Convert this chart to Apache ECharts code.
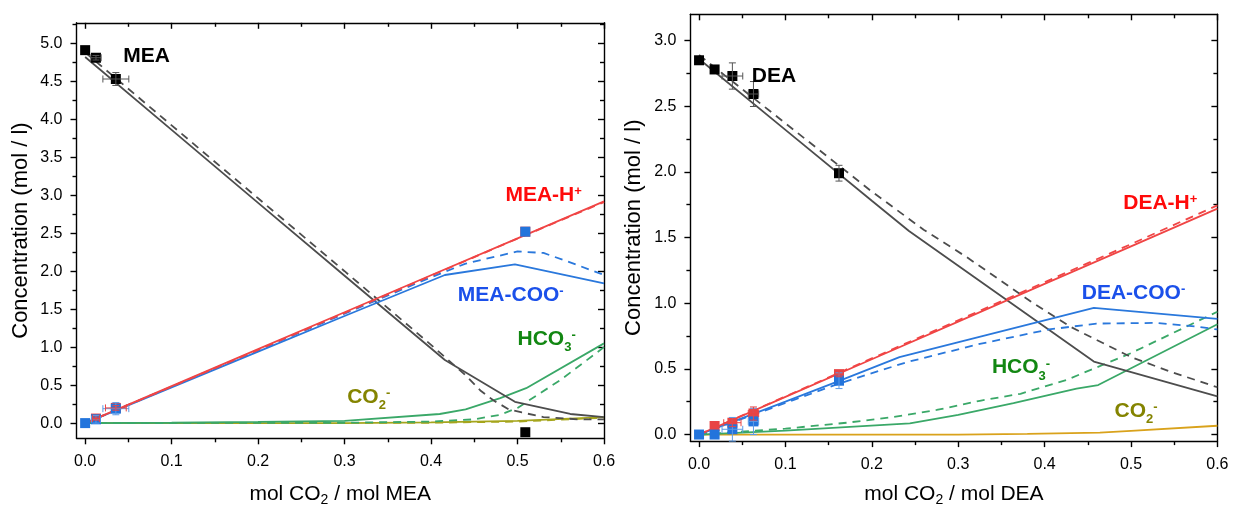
<!DOCTYPE html>
<html><head><meta charset="utf-8">
<script src="https://cdn.jsdelivr.net/npm/echarts@6/dist/echarts.min.js"></script>
<style>html,body{margin:0;padding:0;background:#fff}#c{width:1233px;height:506px}</style>
</head><body><div id="c"></div>
<script>
// ---------- tick values ----------
const xMajor = [0, 0.1, 0.2, 0.3, 0.4, 0.5, 0.6];
const xMinor = [0.05, 0.15, 0.25, 0.35, 0.45, 0.55];
const yMajorMEA = [0, 0.5, 1.0, 1.5, 2.0, 2.5, 3.0, 3.5, 4.0, 4.5, 5.0];
const yMinorMEA = [0.25, 0.75, 1.25, 1.75, 2.25, 2.75, 3.25, 3.75, 4.25, 4.75, 5.25];
const yMajorDEA = [0, 0.5, 1.0, 1.5, 2.0, 2.5, 3.0];
const yMinorDEA = [0.25, 0.75, 1.25, 1.75, 2.25, 2.75];

// ---------- MEA experiments ----------
const meaExpX      = [0, 0.0125, 0.0355, 0.509];
const meaExpMEA    = [4.91, 4.81, 4.53, -0.12];
const meaExpMEAxe  = [0, 0.006, 0.015, 0];
const meaExpMEAye  = [0, 0.03, 0.085, 0];
const meaExpHX     = [0.0125, 0.0355, 0.509];
const meaExpH      = [0.06, 0.2, 2.52];
const meaExpHxe    = [0.004, 0.012, 0];
const meaExpHye    = [0.02, 0.03, 0];
const meaExpCooX   = [0, 0.0125, 0.0355, 0.509];
const meaExpCoo    = [0, 0.05, 0.19, 2.52];
const meaExpCooxe  = [0, 0.005, 0.015, 0];
const meaExpCooye  = [0, 0.05, 0.08, 0];

// ---------- MEA model curves [loading, concentration] ----------
const meaFreeSolid = [[0,4.82],[0.1,3.86],[0.2,2.90],[0.3,1.94],[0.416,0.83],[0.497,0.28],[0.561,0.12],[0.6,0.08]];
const meaFreeDash  = [[0,4.88],[0.1,3.92],[0.2,2.96],[0.3,2.0],[0.4,1.03],[0.44,0.63],[0.457,0.43],[0.472,0.3],[0.49,0.18],[0.505,0.14],[0.53,0.08],[0.57,0.05],[0.6,0.05]];
const meaHSolid    = [[0,0],[0.1,0.487],[0.2,0.973],[0.3,1.46],[0.4,1.947],[0.5,2.433],[0.6,2.92]];
const meaHDash     = [[0,0],[0.1,0.48],[0.2,0.965],[0.3,1.45],[0.4,1.94],[0.5,2.43],[0.6,2.91]];
const meaCooSolid  = [[0,0],[0.1,0.47],[0.2,0.94],[0.3,1.41],[0.416,1.95],[0.497,2.09],[0.6,1.84]];
const meaCooDash   = [[0,0],[0.1,0.48],[0.2,0.96],[0.3,1.44],[0.4,1.92],[0.44,2.1],[0.5,2.26],[0.53,2.24],[0.56,2.12],[0.6,1.95]];
const meaHco3Solid = [[0,0],[0.1,0.005],[0.2,0.015],[0.3,0.03],[0.41,0.12],[0.44,0.18],[0.48,0.33],[0.51,0.46],[0.6,1.05]];
const meaHco3Dash  = [[0,0],[0.3,0.005],[0.4,0.02],[0.45,0.05],[0.48,0.11],[0.5,0.2],[0.55,0.57],[0.6,1.0]];
const meaCo2Solid  = [[0,0],[0.3,0.0],[0.4,0.01],[0.5,0.03],[0.6,0.08]];
const meaCo2Dash   = [[0,0],[0.4,0.005],[0.5,0.02],[0.6,0.07]];

// ---------- DEA experiments ----------
const deaExpX      = [0, 0.018, 0.0386, 0.063, 0.162];
const deaExpDEA    = [2.85, 2.78, 2.73, 2.593, 1.99];
const deaExpDEAxe  = [0, 0, 0.012, 0.006, 0];
const deaExpDEAye  = [0, 0, 0.1, 0.095, 0.06];
const deaExpHX     = [0.018, 0.0386, 0.063, 0.162];
const deaExpH      = [0.065, 0.09, 0.16, 0.46];
const deaExpHxe    = [0, 0.01, 0.006, 0];
const deaExpHye    = [0, 0.03, 0.05, 0.02];
const deaExpCoo    = [0, 0, 0.04, 0.1, 0.41];
const deaExpCooxe  = [0, 0, 0.012, 0.006, 0];
const deaExpCooye  = [0, 0, 0.09, 0.1, 0.06];

// ---------- DEA model curves ----------
const deaFreeSolid = [[0,2.86],[0.1,2.32],[0.2,1.78],[0.243,1.55],[0.457,0.556],[0.6,0.29]];
const deaFreeDash  = [[0,2.89],[0.1,2.37],[0.2,1.85],[0.26,1.56],[0.31,1.35],[0.387,1.0],[0.43,0.82],[0.5,0.59],[0.545,0.48],[0.6,0.36]];
const deaHSolid    = [[0,0],[0.1,0.287],[0.2,0.573],[0.3,0.86],[0.4,1.147],[0.5,1.433],[0.6,1.72]];
const deaHDash     = [[0,0],[0.1,0.29],[0.2,0.58],[0.3,0.87],[0.4,1.16],[0.5,1.45],[0.6,1.745]];
const deaCooSolid  = [[0,0],[0.1,0.25],[0.163,0.41],[0.232,0.59],[0.457,0.965],[0.6,0.88]];
const deaCooDash   = [[0,0],[0.1,0.24],[0.163,0.39],[0.24,0.55],[0.325,0.69],[0.405,0.8],[0.46,0.845],[0.53,0.85],[0.578,0.82],[0.6,0.8]];
const deaHco3Solid = [[0,0],[0.1,0.03],[0.244,0.085],[0.3,0.15],[0.364,0.24],[0.437,0.35],[0.462,0.377],[0.6,0.84]];
const deaHco3Dash  = [[0,0],[0.1,0.045],[0.171,0.09],[0.221,0.13],[0.275,0.187],[0.325,0.257],[0.372,0.31],[0.425,0.415],[0.5,0.62],[0.6,0.935]];
const deaCo2Solid  = [[0,0],[0.3,0.0],[0.38,0.005],[0.464,0.014],[0.5,0.028],[0.6,0.067]];

// ---------- annotation texts (anchor = left-middle, data coords) ----------
const meaLabels = [
  {t:'{m|MEA}', x:0.044, y:4.83, c:'#000000'},
  {t:'{m|MEA-H}{p|+}', x:0.486, y:3.0, c:'#ff0a0a'},
  {t:'{m|MEA-COO}{p|-}', x:0.431, y:1.69, c:'#1b50ea'},
  {t:'{m|HCO}{s|3}{p|-}', x:0.5, y:1.11, c:'#128712'},
  {t:'{m|CO}{s|2}{p|-}', x:0.303, y:0.34, c:'#848400'}
];
const deaLabels = [
  {t:'{m|DEA}', x:0.061, y:2.73, c:'#000000'},
  {t:'{m|DEA-H}{p|+}', x:0.491, y:1.76, c:'#ff0a0a'},
  {t:'{m|DEA-COO}{p|-}', x:0.443, y:1.08, c:'#1b50ea'},
  {t:'{m|HCO}{s|3}{p|-}', x:0.339, y:0.51, c:'#128712'},
  {t:'{m|CO}{s|2}{p|-}', x:0.481, y:0.18, c:'#848400'}
];

const FONT = '"Liberation Sans", Arial, Helvetica, sans-serif';
const AX = {color:'#000', width:1.4};
const C = {gray:'#4d4d4d', red:'#f04545', blue:'#2a78dc', green:'#3aa868', olive:'#a5a51c', gold:'#d9a21b'};

function xAxes(grid, name, gap) {
  const base = {type:'value', gridIndex:grid, min:-0.01, max:0.6, splitLine:{show:false}};
  return [
    Object.assign({}, base, {position:'bottom', name:name, nameLocation:'middle', nameGap:gap,
      nameTextStyle:{fontSize:21, color:'#000', fontFamily:FONT, lineHeight:26,
        rich:{s:{fontSize:14, fontFamily:FONT, color:'#000', verticalAlign:'bottom', lineHeight:14}}},
      axisLine:{show:true, onZero:false, lineStyle:AX},
      axisTick:{show:true, customValues:xMajor, length:6, lineStyle:AX},
      axisLabel:{show:true, customValues:xMajor, formatter:v=>v.toFixed(1), fontSize:16, color:'#000', fontFamily:FONT, margin:15}}),
    Object.assign({}, base, {position:'bottom', axisLine:{show:false, onZero:false},
      axisTick:{show:true, customValues:xMinor, length:4, lineStyle:AX}, axisLabel:{show:false}}),
    Object.assign({}, base, {position:'top', axisLine:{show:true, onZero:false, lineStyle:AX},
      axisTick:{show:true, inside:true, customValues:xMajor, length:6, lineStyle:AX}, axisLabel:{show:false}}),
    Object.assign({}, base, {position:'top', axisLine:{show:false, onZero:false},
      axisTick:{show:true, inside:true, customValues:xMinor, length:4, lineStyle:AX}, axisLabel:{show:false}})
  ];
}
function yAxes(grid, min, max, major, minor) {
  const base = {type:'value', gridIndex:grid, min:min, max:max, splitLine:{show:false}};
  return [
    Object.assign({}, base, {position:'left', name:'Concentration (mol / l)', nameLocation:'middle', nameGap:45,
      nameTextStyle:{fontSize:22, color:'#000', fontFamily:FONT},
      axisLine:{show:true, onZero:false, lineStyle:AX},
      axisTick:{show:true, customValues:major, length:6, lineStyle:AX},
      axisLabel:{show:true, customValues:major, formatter:v=>v.toFixed(1), fontSize:16, color:'#000', fontFamily:FONT, margin:14}}),
    Object.assign({}, base, {position:'left', axisLine:{show:false, onZero:false},
      axisTick:{show:true, customValues:minor, length:4, lineStyle:AX}, axisLabel:{show:false}}),
    Object.assign({}, base, {position:'right', axisLine:{show:true, onZero:false, lineStyle:AX},
      axisTick:{show:true, inside:true, customValues:major, length:6, lineStyle:AX}, axisLabel:{show:false}}),
    Object.assign({}, base, {position:'right', axisLine:{show:false, onZero:false},
      axisTick:{show:true, inside:true, customValues:minor, length:4, lineStyle:AX}, axisLabel:{show:false}})
  ];
}

function line(ax, data, color, dashed) {
  return {type:'line', xAxisIndex:ax, yAxisIndex:ax, data:data, symbol:'none', silent:true, z:2,
    lineStyle:{color:color, width:1.8, type: dashed ? [8,6] : 'solid'}};
}
function pts(ax, xs, ys, color) {
  return {type:'scatter', xAxisIndex:ax, yAxisIndex:ax, symbol:'rect', symbolSize:10, silent:true, z:4,
    itemStyle:{color:color, opacity:1}, data: xs.map((x,i)=>[x, ys[i]])};
}
function errs(ax, xs, ys, xe, ye, color) {
  return {type:'custom', xAxisIndex:ax, yAxisIndex:ax, silent:true, z:5,
    encode:{x:0, y:1},
    data: xs.map((x,i)=>[x, ys[i], xe[i], ye[i]]),
    renderItem: function(params, api) {
      const x = api.value(0), y = api.value(1), a = api.value(2), b = api.value(3);
      const st = {stroke:color, lineWidth:1, fill:null};
      const ch = [], cap = 3.5;
      if (b > 0) {
        const p = api.coord([x, y-b]), q = api.coord([x, y+b]);
        ch.push({type:'line', shape:{x1:p[0],y1:p[1],x2:q[0],y2:q[1]}, style:st});
        ch.push({type:'line', shape:{x1:p[0]-cap,y1:p[1],x2:p[0]+cap,y2:p[1]}, style:st});
        ch.push({type:'line', shape:{x1:q[0]-cap,y1:q[1],x2:q[0]+cap,y2:q[1]}, style:st});
      }
      if (a > 0) {
        const p = api.coord([x-a, y]), q = api.coord([x+a, y]);
        ch.push({type:'line', shape:{x1:p[0],y1:p[1],x2:q[0],y2:q[1]}, style:st});
        ch.push({type:'line', shape:{x1:p[0],y1:p[1]-cap,x2:p[0],y2:p[1]+cap}, style:st});
        ch.push({type:'line', shape:{x1:q[0],y1:q[1]-cap,x2:q[0],y2:q[1]+cap}, style:st});
      }
      return {type:'group', children:ch};
    }};
}
function rich(color) {
  return {
    m:{fontSize:21, fontWeight:'bold', color:color, fontFamily:FONT, lineHeight:30},
    p:{fontSize:13, fontWeight:'bold', color:color, fontFamily:FONT, verticalAlign:'top', lineHeight:13, padding:[5,0,0,0]},
    s:{fontSize:13, fontWeight:'bold', color:color, fontFamily:FONT, verticalAlign:'bottom', lineHeight:13}
  };
}
function labels(ax, list) {
  return list.map(l => ({type:'scatter', xAxisIndex:ax, yAxisIndex:ax, symbolSize:0, silent:true, z:10,
    itemStyle:{opacity:1, color:l.c},
    data:[[l.x, l.y]],
    label:{show:true, position:'right', distance:0, color:l.c, opacity:1, formatter:()=>l.t, rich:rich(l.c)}}));
}

const L = 0, R = 4;
const series = [
  line(L, meaCo2Solid, C.olive, false), line(L, meaCo2Dash, C.olive, true),
  line(L, meaHco3Solid, C.green, false), line(L, meaHco3Dash, C.green, true),
  line(L, meaFreeSolid, C.gray, false), line(L, meaFreeDash, C.gray, true),
  line(L, meaCooSolid, C.blue, false), line(L, meaCooDash, C.blue, true),
  line(L, meaHSolid, C.red, false), line(L, meaHDash, C.red, true),
  pts(L, meaExpHX, meaExpH, '#e84444'),
  pts(L, meaExpCooX, meaExpCoo, '#2274dc'),
  pts(L, meaExpX, meaExpMEA, '#000000'),
  errs(L, meaExpCooX, meaExpCoo, meaExpCooxe, meaExpCooye, '#5c9ae6'),
  errs(L, meaExpHX, meaExpH, meaExpHxe, meaExpHye, '#e84444'),
  errs(L, meaExpX, meaExpMEA, meaExpMEAxe, meaExpMEAye, '#555555'),

  line(R, deaCo2Solid, C.gold, false),
  line(R, deaHco3Solid, C.green, false), line(R, deaHco3Dash, C.green, true),
  line(R, deaFreeSolid, C.gray, false), line(R, deaFreeDash, C.gray, true),
  line(R, deaCooSolid, C.blue, false), line(R, deaCooDash, C.blue, true),
  line(R, deaHSolid, C.red, false), line(R, deaHDash, C.red, true),
  pts(R, deaExpHX, deaExpH, '#e84444'),
  pts(R, deaExpX, deaExpCoo, '#2274dc'),
  pts(R, deaExpX, deaExpDEA, '#000000'),
  errs(R, deaExpX, deaExpCoo, deaExpCooxe, deaExpCooye, '#5c9ae6'),
  errs(R, deaExpHX, deaExpH, deaExpHxe, deaExpHye, '#e84444'),
  errs(R, deaExpX, deaExpDEA, deaExpDEAxe, deaExpDEAye, '#555555')
].concat(labels(L, meaLabels), labels(R, deaLabels));

const chart = echarts.init(document.getElementById('c'), null, {renderer:'canvas'});
chart.setOption({
  animation:false,
  backgroundColor:'#ffffff',
  textStyle:{fontFamily:FONT},
  grid:[
    {left:76.5, top:22.8, width:527.5, height:415.5, outerBoundsMode:'none', containLabel:false},
    {left:690.4, top:14.3, width:527, height:426.8, outerBoundsMode:'none', containLabel:false}
  ],
  xAxis: xAxes(0, 'mol CO{s|2} / mol MEA', 43).concat(xAxes(1, 'mol CO{s|2} / mol DEA', 40)),
  yAxis: yAxes(0, -0.2, 5.27, yMajorMEA, yMinorMEA).concat(yAxes(1, -0.05, 3.2, yMajorDEA, yMinorDEA)),
  series: series
});
</script></body></html>
